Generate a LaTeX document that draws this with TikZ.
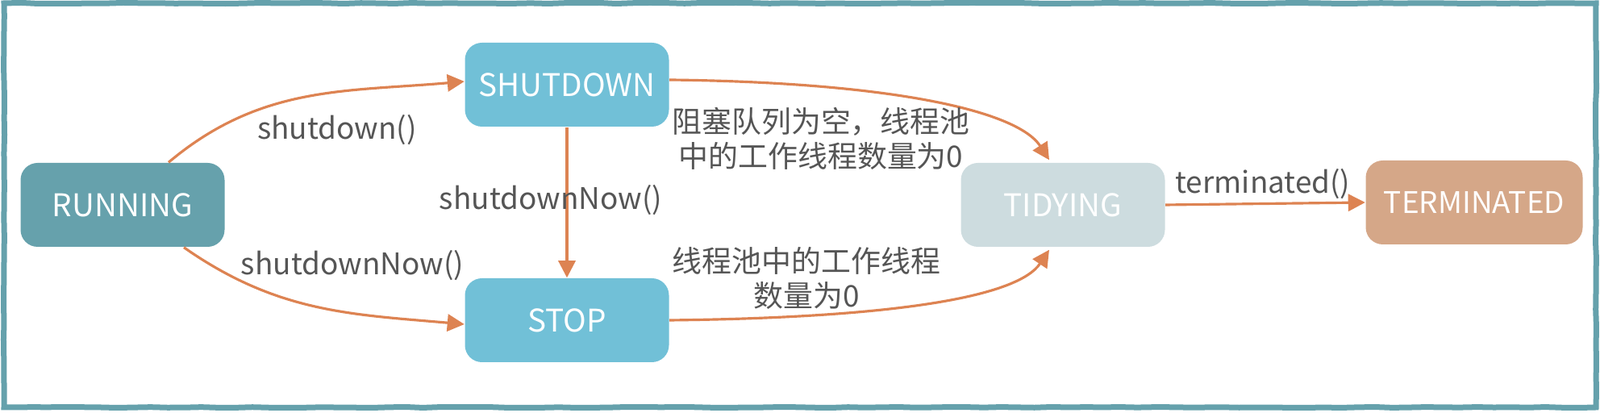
\documentclass[tikz,border=0pt]{standalone}
\usepackage{fontspec}
\setmainfont{Noto Sans CJK SC}
\usetikzlibrary{positioning,arrows.meta,calc,decorations.pathmorphing}
\definecolor{framec}{HTML}{65A1AC}
\definecolor{runc}{HTML}{66A1AC}
\definecolor{stopc}{HTML}{71C0D7}
\definecolor{tidyc}{HTML}{CDDCDF}
\definecolor{termc}{HTML}{D5A788}
\definecolor{arrowc}{HTML}{DD8352}
\definecolor{labelc}{HTML}{555555}
\begin{document}
\begin{tikzpicture}[
    state/.style={rounded corners=6pt, minimum width=2.53cm, minimum height=1.04cm,
                  align=center, font=\fontsize{11}{13}\selectfont, text=white, inner sep=4pt},
    trans/.style={-{Triangle[length=6pt,width=6pt]}, line width=0.9pt, arrowc},
    lbl/.style={font=\fontsize{10.5}{13}\selectfont, text=labelc, align=center},
    cjk/.style={font=\fontsize{10.5}{12}\selectfont, text=labelc, align=center},
  ]
  \useasboundingbox (0,0) rectangle (19.84,5.12);
  % Frame
  \draw[framec, line width=0.07cm, decorate,
        decoration={random steps,segment length=6pt,amplitude=0.15pt}]
    (0.05,0.07) rectangle (19.79,5.08);
  % States
  \node[state, fill=runc] (running) at (1.52,2.58) {RUNNING};
  \node[state, fill=stopc] (shutdown) at (7.03,4.07) {SHUTDOWN};
  \node[state, fill=stopc] (stop) at (7.03,1.15) {STOP};
  \node[state, fill=tidyc] (tidying) at (13.18,2.58) {TIDYING};
  \node[state, fill=termc, minimum width=2.69cm, font=\fontsize{10.5}{13}\selectfont] (terminated) at (18.28,2.61) {TERMINATED};
  % Running -> Shutdown / Stop
  \draw[trans] ([xshift=5.7mm]running.north) to[out=40,in=185] ([yshift=0.4mm]shutdown.west);
  \node[lbl] (l1) at (4.18,3.51) {shutdown()};
  \draw[trans] ([xshift=7.6mm]running.south) to[out=-35,in=175] ([yshift=-0.5mm]stop.west);
  \node[lbl] (l2) at (4.37,1.83) {shutdownNow()};
  % Shutdown -> Stop
  \draw[trans] (shutdown) -- (stop);
  \node[lbl] (l3) at (6.83,2.64) {shutdownNow()};
  % -> Tidying
  \draw[trans] ([yshift=0.6mm]shutdown.east) .. controls +(2.7,-0.03) and +(-0.4,0.62) .. ([xshift=-1.7mm,yshift=0.3mm]tidying.north);
  \node[cjk] (l4) at (10.18,3.40) {阻塞队列为空，线程池\\中的工作线程数量为0};
  \draw[trans] (stop.east) .. controls +(2.7,0.03) and +(-0.4,-0.6) .. ([xshift=-1.7mm,yshift=-0.3mm]tidying.south);
  \node[cjk] (l5) at (10.0,1.67) {线程池中的工作线程\\数量为0};
  % Tidying -> Terminated
  \draw[trans] (tidying.east) -- (terminated.west);
  \node[lbl] (l6) at (15.66,2.84) {terminated()};
\end{tikzpicture}
\end{document}
